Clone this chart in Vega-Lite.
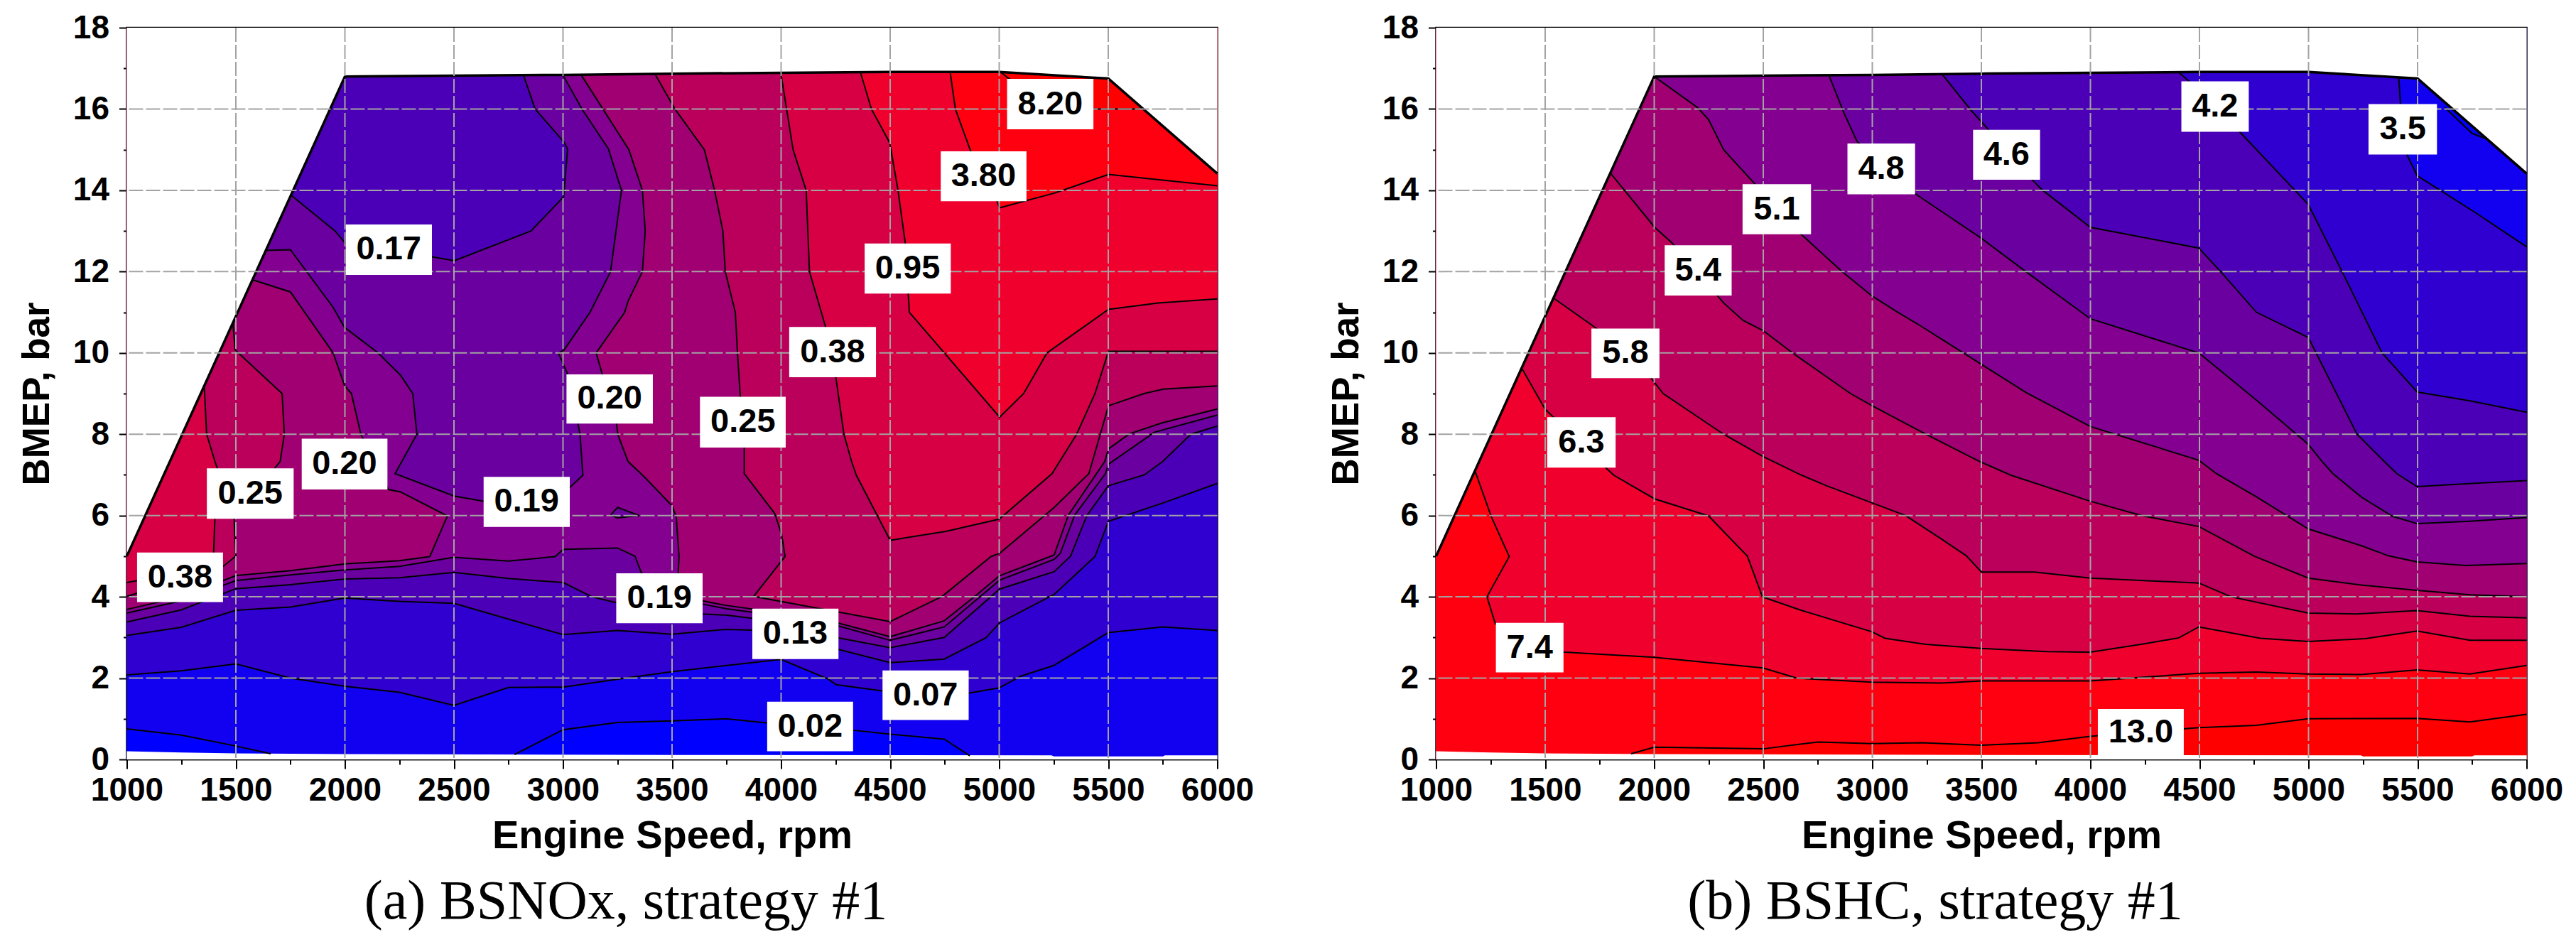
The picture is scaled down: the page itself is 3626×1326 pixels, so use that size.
{"$schema":"https://vega.github.io/schema/vega-lite/v6.json","background":"white","padding":{"left":24.5,"top":14,"right":20,"bottom":10},"spacing":308,"bounds":"flush","config":{"view":{"stroke":"black","strokeWidth":2.5},"axis":{"grid":false,"zindex":1,"domainColor":"black","domainWidth":1.5,"tickColor":"black","tickWidth":2,"labelFont":"Liberation Sans","labelFontSize":46,"labelFontWeight":"bold","labelColor":"black","labelOverlap":false,"labelBound":false,"labelFlush":false,"titleFont":"Liberation Sans","titleFontWeight":"bold","titleColor":"black"},"title":{"font":"Liberation Serif","fontSize":78,"fontWeight":"normal","color":"black"}},
"datasets":{
"gx":[{"x":1500},{"x":2000},{"x":2500},{"x":3000},{"x":3500},{"x":4000},{"x":4500},{"x":5000},{"x":5500}],
"gy":[{"y":2},{"y":4},{"y":6},{"y":8},{"y":10},{"y":12},{"y":14},{"y":16}],
"A":[
{"p":"base","b":"c1","x":1000,"y":0},{"p":"base","b":"c1","x":6000,"y":0},{"p":"base","b":"c1","x":6000,"y":18},{"p":"base","b":"c1","x":1000,"y":18},
{"p":"c0a","b":"c0","x":1000,"y":0.75,"e":1},{"p":"c0a","b":"c0","x":1250,"y":0.6,"e":1},{"p":"c0a","b":"c0","x":1500,"y":0.33,"e":1},{"p":"c0a","b":"c0","x":1660,"y":0.14,"e":1},{"p":"c0a","b":"c0","x":1660,"y":0},{"p":"c0a","b":"c0","x":1000,"y":0},
{"p":"c0b","b":"c0","x":2778,"y":0.12,"e":1},{"p":"c0b","b":"c0","x":3000,"y":0.73,"e":1},{"p":"c0b","b":"c0","x":3250,"y":0.91,"e":1},{"p":"c0b","b":"c0","x":3500,"y":0.95,"e":1},{"p":"c0b","b":"c0","x":3747,"y":1.0,"e":1},{"p":"c0b","b":"c0","x":3932,"y":0.9,"e":1},{"p":"c0b","b":"c0","x":4345,"y":0.71,"e":1},{"p":"c0b","b":"c0","x":4500,"y":0.62,"e":1},{"p":"c0b","b":"c0","x":4748,"y":0.5,"e":1},{"p":"c0b","b":"c0","x":4865,"y":0.09,"e":1},{"p":"c0b","b":"c0","x":4865,"y":0},{"p":"c0b","b":"c0","x":2778,"y":0},
{"p":"L2","b":"c2","x":1000,"y":2.08,"e":1},{"p":"L2","b":"c2","x":1250,"y":2.18,"e":1},{"p":"L2","b":"c2","x":1500,"y":2.35,"e":1},{"p":"L2","b":"c2","x":1750,"y":2.0,"e":1},{"p":"L2","b":"c2","x":2000,"y":1.8,"e":1},{"p":"L2","b":"c2","x":2250,"y":1.65,"e":1},{"p":"L2","b":"c2","x":2500,"y":1.33,"e":1},{"p":"L2","b":"c2","x":2750,"y":1.77,"e":1},{"p":"L2","b":"c2","x":3000,"y":1.78,"e":1},{"p":"L2","b":"c2","x":3298,"y":2.01,"e":1},{"p":"L2","b":"c2","x":3500,"y":2.16,"e":1},{"p":"L2","b":"c2","x":4000,"y":2.46,"e":1},{"p":"L2","b":"c2","x":4214,"y":1.98,"e":1},{"p":"L2","b":"c2","x":4252,"y":1.84,"e":1},{"p":"L2","b":"c2","x":4500,"y":1.66,"e":1},{"p":"L2","b":"c2","x":4860,"y":1.63,"e":1},{"p":"L2","b":"c2","x":5000,"y":1.76,"e":1},{"p":"L2","b":"c2","x":5100,"y":2.05,"e":1},{"p":"L2","b":"c2","x":5250,"y":2.31,"e":1},{"p":"L2","b":"c2","x":5500,"y":3.12,"e":1},{"p":"L2","b":"c2","x":5750,"y":3.26,"e":1},{"p":"L2","b":"c2","x":6000,"y":3.17,"e":1},{"p":"L2","b":"c2","x":6000,"y":18},{"p":"L2","b":"c2","x":1000,"y":18},
{"p":"L3","b":"c3","x":1000,"y":3.05,"e":1},{"p":"L3","b":"c3","x":1250,"y":3.25,"e":1},{"p":"L3","b":"c3","x":1500,"y":3.67,"e":1},{"p":"L3","b":"c3","x":1750,"y":3.75,"e":1},{"p":"L3","b":"c3","x":2000,"y":3.97,"e":1},{"p":"L3","b":"c3","x":2250,"y":3.89,"e":1},{"p":"L3","b":"c3","x":2500,"y":3.84,"e":1},{"p":"L3","b":"c3","x":2750,"y":3.45,"e":1},{"p":"L3","b":"c3","x":3000,"y":3.07,"e":1},{"p":"L3","b":"c3","x":3250,"y":3.17,"e":1},{"p":"L3","b":"c3","x":3500,"y":3.08,"e":1},{"p":"L3","b":"c3","x":3747,"y":3.2,"e":1},{"p":"L3","b":"c3","x":3868,"y":3.18,"e":1},{"p":"L3","b":"c3","x":4261,"y":2.71,"e":1},{"p":"L3","b":"c3","x":4500,"y":2.38,"e":1},{"p":"L3","b":"c3","x":4748,"y":2.47,"e":1},{"p":"L3","b":"c3","x":4938,"y":2.99,"e":1},{"p":"L3","b":"c3","x":5002,"y":3.36,"e":1},{"p":"L3","b":"c3","x":5252,"y":4.06,"e":1},{"p":"L3","b":"c3","x":5439,"y":4.99,"e":1},{"p":"L3","b":"c3","x":5501,"y":5.86,"e":1},{"p":"L3","b":"c3","x":5752,"y":6.31,"e":1},{"p":"L3","b":"c3","x":6000,"y":6.79,"e":1},{"p":"L3","b":"c3","x":6000,"y":18},{"p":"L3","b":"c3","x":1000,"y":18},
{"p":"L4","b":"c4","x":1000,"y":3.38,"e":1},{"p":"L4","b":"c4","x":1250,"y":3.68,"e":1},{"p":"L4","b":"c4","x":1500,"y":4.2,"e":1},{"p":"L4","b":"c4","x":1750,"y":4.3,"e":1},{"p":"L4","b":"c4","x":2000,"y":4.44,"e":1},{"p":"L4","b":"c4","x":2250,"y":4.47,"e":1},{"p":"L4","b":"c4","x":2500,"y":4.6,"e":1},{"p":"L4","b":"c4","x":2750,"y":4.45,"e":1},{"p":"L4","b":"c4","x":3001,"y":4.35,"e":1},{"p":"L4","b":"c4","x":3133,"y":4.0,"e":1},{"p":"L4","b":"c4","x":3250,"y":3.85,"e":1},{"p":"L4","b":"c4","x":3640,"y":3.58,"e":1},{"p":"L4","b":"c4","x":3747,"y":3.55,"e":1},{"p":"L4","b":"c4","x":4003,"y":3.38,"e":1},{"p":"L4","b":"c4","x":4252,"y":3.0,"e":1},{"p":"L4","b":"c4","x":4500,"y":2.75,"e":1},{"p":"L4","b":"c4","x":4748,"y":3.0,"e":1},{"p":"L4","b":"c4","x":5002,"y":4.19,"e":1},{"p":"L4","b":"c4","x":5252,"y":4.62,"e":1},{"p":"L4","b":"c4","x":5327,"y":5.0,"e":1},{"p":"L4","b":"c4","x":5402,"y":6.0,"e":1},{"p":"L4","b":"c4","x":5500,"y":6.73,"e":1},{"p":"L4","b":"c4","x":5665,"y":7.0,"e":1},{"p":"L4","b":"c4","x":5750,"y":7.33,"e":1},{"p":"L4","b":"c4","x":5879,"y":8.0,"e":1},{"p":"L4","b":"c4","x":6000,"y":8.2,"e":1},{"p":"L4","b":"c4","x":6000,"y":18},{"p":"L4","b":"c4","x":1000,"y":18},
{"p":"L5","b":"c5","x":1000,"y":3.6,"e":1},{"p":"L5","b":"c5","x":1250,"y":3.9,"e":1},{"p":"L5","b":"c5","x":1500,"y":4.4,"e":1},{"p":"L5","b":"c5","x":1750,"y":4.54,"e":1},{"p":"L5","b":"c5","x":2000,"y":4.66,"e":1},{"p":"L5","b":"c5","x":2250,"y":4.75,"e":1},{"p":"L5","b":"c5","x":2500,"y":4.97,"e":1},{"p":"L5","b":"c5","x":2750,"y":4.88,"e":1},{"p":"L5","b":"c5","x":2964,"y":4.99,"e":1},{"p":"L5","b":"c5","x":3001,"y":5.17,"e":1},{"p":"L5","b":"c5","x":3250,"y":5.2,"e":1},{"p":"L5","b":"c5","x":3330,"y":5.0,"e":1},{"p":"L5","b":"c5","x":3360,"y":4.58,"e":1},{"p":"L5","b":"c5","x":3640,"y":3.82,"e":1},{"p":"L5","b":"c5","x":3747,"y":3.71,"e":1},{"p":"L5","b":"c5","x":4003,"y":3.52,"e":1},{"p":"L5","b":"c5","x":4252,"y":3.3,"e":1},{"p":"L5","b":"c5","x":4500,"y":2.93,"e":1},{"p":"L5","b":"c5","x":4748,"y":3.26,"e":1},{"p":"L5","b":"c5","x":5002,"y":4.41,"e":1},{"p":"L5","b":"c5","x":5252,"y":4.92,"e":1},{"p":"L5","b":"c5","x":5280,"y":5.07,"e":1},{"p":"L5","b":"c5","x":5346,"y":6.01,"e":1},{"p":"L5","b":"c5","x":5487,"y":7.03,"e":1},{"p":"L5","b":"c5","x":5500,"y":7.26,"e":1},{"p":"L5","b":"c5","x":5712,"y":8.05,"e":1},{"p":"L5","b":"c5","x":6000,"y":8.47,"e":1},{"p":"L5","b":"c5","x":6000,"y":18},{"p":"L5","b":"c5","x":1000,"y":18},
{"p":"T4","b":"c4","x":1637,"y":12.52,"e":1},{"p":"T4","b":"c4","x":1750,"y":12.54,"e":1},{"p":"T4","b":"c4","x":1946,"y":11.12,"e":1},{"p":"T4","b":"c4","x":1998,"y":10.63,"e":1},{"p":"T4","b":"c4","x":2152,"y":10,"e":1},{"p":"T4","b":"c4","x":2255,"y":9.45,"e":1},{"p":"T4","b":"c4","x":2311,"y":9,"e":1},{"p":"T4","b":"c4","x":2330,"y":8,"e":1},{"p":"T4","b":"c4","x":2230,"y":7.03,"e":1},{"p":"T4","b":"c4","x":2501,"y":6.48,"e":1},{"p":"T4","b":"c4","x":2638,"y":6.35,"e":1},{"p":"T4","b":"c4","x":3031,"y":6.69,"e":1},{"p":"T4","b":"c4","x":3091,"y":6.99,"e":1},{"p":"T4","b":"c4","x":3078,"y":8,"e":1},{"p":"T4","b":"c4","x":3022,"y":9.47,"e":1},{"p":"T4","b":"c4","x":2979,"y":10,"e":1},{"p":"T4","b":"c4","x":3003,"y":10.06,"e":1},{"p":"T4","b":"c4","x":3124,"y":11,"e":1},{"p":"T4","b":"c4","x":3218,"y":12,"e":1},{"p":"T4","b":"c4","x":3268,"y":14,"e":1},{"p":"T4","b":"c4","x":3208,"y":15.02,"e":1},{"p":"T4","b":"c4","x":3087,"y":16,"e":1},{"p":"T4","b":"c4","x":2999,"y":16.84,"e":1},{"p":"T4","b":"c4","x":2999,"y":18},{"p":"T4","b":"c4","x":1637,"y":18},
{"p":"T3","b":"c3","x":1753,"y":13.88,"e":1},{"p":"T3","b":"c3","x":1955,"y":13,"e":1},{"p":"T3","b":"c3","x":2002,"y":12.7,"e":1},{"p":"T3","b":"c3","x":2395,"y":12.37,"e":1},{"p":"T3","b":"c3","x":2502,"y":12.27,"e":1},{"p":"T3","b":"c3","x":2853,"y":13,"e":1},{"p":"T3","b":"c3","x":3003,"y":13.84,"e":1},{"p":"T3","b":"c3","x":3021,"y":15.02,"e":1},{"p":"T3","b":"c3","x":3003,"y":15.2,"e":1},{"p":"T3","b":"c3","x":2872,"y":16,"e":1},{"p":"T3","b":"c3","x":2819,"y":16.83,"e":1},{"p":"T3","b":"c3","x":2819,"y":18},{"p":"T3","b":"c3","x":1753,"y":18},
{"p":"S4","b":"c4","x":3218,"y":6.01,"e":1},{"p":"S4","b":"c4","x":3250,"y":6.2,"e":1},{"p":"S4","b":"c4","x":3349,"y":6.0,"e":1},{"p":"S4","b":"c4","x":3250,"y":5.94,"e":1},{"p":"S4","b":"c4","x":3218,"y":6.01,"e":1},
{"p":"L6a","b":"c6","x":1000,"y":3.69,"e":1},{"p":"L6a","b":"c6","x":1250,"y":4.0,"e":1},{"p":"L6a","b":"c6","x":1500,"y":4.52,"e":1},{"p":"L6a","b":"c6","x":1760,"y":4.65,"e":1},{"p":"L6a","b":"c6","x":2000,"y":4.81,"e":1},{"p":"L6a","b":"c6","x":2250,"y":4.89,"e":1},{"p":"L6a","b":"c6","x":2389,"y":4.99,"e":1},{"p":"L6a","b":"c6","x":2470,"y":5.99,"e":1},{"p":"L6a","b":"c6","x":2255,"y":6.58,"e":1},{"p":"L6a","b":"c6","x":2199,"y":6.64,"e":1},{"p":"L6a","b":"c6","x":2073,"y":8,"e":1},{"p":"L6a","b":"c6","x":2030,"y":9,"e":1},{"p":"L6a","b":"c6","x":1999,"y":9.19,"e":1},{"p":"L6a","b":"c6","x":1946,"y":10,"e":1},{"p":"L6a","b":"c6","x":1750,"y":11.5,"e":1},{"p":"L6a","b":"c6","x":1576,"y":11.8,"e":1},{"p":"L6a","b":"c6","x":1000,"y":18},
{"p":"L7a","b":"c7","x":1486,"y":10.74,"e":1},{"p":"L7a","b":"c7","x":1497,"y":10.07,"e":1},{"p":"L7a","b":"c7","x":1712,"y":9,"e":1},{"p":"L7a","b":"c7","x":1722,"y":8,"e":1},{"p":"L7a","b":"c7","x":1703,"y":7.33,"e":1},{"p":"L7a","b":"c7","x":1492,"y":5.92,"e":1},{"p":"L7a","b":"c7","x":1500,"y":5.0,"e":1},{"p":"L7a","b":"c7","x":1442,"y":4.75,"e":1},{"p":"L7a","b":"c7","x":1000,"y":4.01,"e":1},{"p":"L7a","b":"c7","x":1000,"y":18},
{"p":"L8a","b":"c8","x":1355,"y":9.19,"e":1},{"p":"L8a","b":"c8","x":1366,"y":8,"e":1},{"p":"L8a","b":"c8","x":1404,"y":7.33,"e":1},{"p":"L8a","b":"c8","x":1423,"y":7.03,"e":1},{"p":"L8a","b":"c8","x":1404,"y":5.97,"e":1},{"p":"L8a","b":"c8","x":1398,"y":5.07,"e":1},{"p":"L8a","b":"c8","x":1250,"y":4.6,"e":1},{"p":"L8a","b":"c8","x":1000,"y":4.35,"e":1},{"p":"L8a","b":"c8","x":1000,"y":18},
{"p":"L6b","b":"c6","x":3083,"y":16.84,"e":1},{"p":"L6b","b":"c6","x":3302,"y":15,"e":1},{"p":"L6b","b":"c6","x":3364,"y":14,"e":1},{"p":"L6b","b":"c6","x":3377,"y":13,"e":1},{"p":"L6b","b":"c6","x":3364,"y":12,"e":1},{"p":"L6b","b":"c6","x":3298,"y":11.27,"e":1},{"p":"L6b","b":"c6","x":3283,"y":11,"e":1},{"p":"L6b","b":"c6","x":3152,"y":10,"e":1},{"p":"L6b","b":"c6","x":3246,"y":8.24,"e":1},{"p":"L6b","b":"c6","x":3251,"y":8,"e":1},{"p":"L6b","b":"c6","x":3298,"y":7.33,"e":1},{"p":"L6b","b":"c6","x":3373,"y":6.95,"e":1},{"p":"L6b","b":"c6","x":3500,"y":6.24,"e":1},{"p":"L6b","b":"c6","x":3519,"y":5.97,"e":1},{"p":"L6b","b":"c6","x":3532,"y":4.99,"e":1},{"p":"L6b","b":"c6","x":3528,"y":4.58,"e":1},{"p":"L6b","b":"c6","x":3640,"y":3.9,"e":1},{"p":"L6b","b":"c6","x":3747,"y":3.79,"e":1},{"p":"L6b","b":"c6","x":4003,"y":3.6,"e":1},{"p":"L6b","b":"c6","x":4252,"y":3.37,"e":1},{"p":"L6b","b":"c6","x":4500,"y":3.02,"e":1},{"p":"L6b","b":"c6","x":4748,"y":3.41,"e":1},{"p":"L6b","b":"c6","x":4888,"y":4.01,"e":1},{"p":"L6b","b":"c6","x":5002,"y":4.52,"e":1},{"p":"L6b","b":"c6","x":5252,"y":5.03,"e":1},{"p":"L6b","b":"c6","x":5317,"y":6.01,"e":1},{"p":"L6b","b":"c6","x":5484,"y":7.33,"e":1},{"p":"L6b","b":"c6","x":5501,"y":7.64,"e":1},{"p":"L6b","b":"c6","x":5597,"y":8.01,"e":1},{"p":"L6b","b":"c6","x":5747,"y":8.28,"e":1},{"p":"L6b","b":"c6","x":6000,"y":8.62,"e":1},{"p":"L6b","b":"c6","x":6000,"y":18},{"p":"L6b","b":"c6","x":3083,"y":18},
{"p":"L7b","b":"c7","x":3422,"y":16.86,"e":1},{"p":"L7b","b":"c7","x":3513,"y":16,"e":1},{"p":"L7b","b":"c7","x":3648,"y":15,"e":1},{"p":"L7b","b":"c7","x":3695,"y":14,"e":1},{"p":"L7b","b":"c7","x":3733,"y":13,"e":1},{"p":"L7b","b":"c7","x":3744,"y":12,"e":1},{"p":"L7b","b":"c7","x":3790,"y":11,"e":1},{"p":"L7b","b":"c7","x":3800,"y":10,"e":1},{"p":"L7b","b":"c7","x":3813,"y":8.92,"e":1},{"p":"L7b","b":"c7","x":3831,"y":7.67,"e":1},{"p":"L7b","b":"c7","x":3831,"y":7.03,"e":1},{"p":"L7b","b":"c7","x":3971,"y":6.05,"e":1},{"p":"L7b","b":"c7","x":4003,"y":5.52,"e":1},{"p":"L7b","b":"c7","x":4018,"y":4.99,"e":1},{"p":"L7b","b":"c7","x":3874,"y":4.01,"e":1},{"p":"L7b","b":"c7","x":4500,"y":3.39,"e":1},{"p":"L7b","b":"c7","x":4738,"y":4.01,"e":1},{"p":"L7b","b":"c7","x":4962,"y":4.99,"e":1},{"p":"L7b","b":"c7","x":5002,"y":5.07,"e":1},{"p":"L7b","b":"c7","x":5252,"y":6.2,"e":1},{"p":"L7b","b":"c7","x":5411,"y":7.03,"e":1},{"p":"L7b","b":"c7","x":5501,"y":8.7,"e":1},{"p":"L7b","b":"c7","x":5664,"y":9,"e":1},{"p":"L7b","b":"c7","x":5752,"y":9.11,"e":1},{"p":"L7b","b":"c7","x":6000,"y":9.19,"e":1},{"p":"L7b","b":"c7","x":6000,"y":18},{"p":"L7b","b":"c7","x":3422,"y":18},
{"p":"L8b","b":"c8","x":3999,"y":16.88,"e":1},{"p":"L8b","b":"c8","x":4055,"y":15,"e":1},{"p":"L8b","b":"c8","x":4115,"y":14,"e":1},{"p":"L8b","b":"c8","x":4130,"y":12,"e":1},{"p":"L8b","b":"c8","x":4204,"y":10.64,"e":1},{"p":"L8b","b":"c8","x":4251,"y":9.4,"e":1},{"p":"L8b","b":"c8","x":4288,"y":8,"e":1},{"p":"L8b","b":"c8","x":4323,"y":7.33,"e":1},{"p":"L8b","b":"c8","x":4345,"y":6.99,"e":1},{"p":"L8b","b":"c8","x":4500,"y":5.39,"e":1},{"p":"L8b","b":"c8","x":4755,"y":5.61,"e":1},{"p":"L8b","b":"c8","x":5000,"y":5.91,"e":1},{"p":"L8b","b":"c8","x":5242,"y":7.03,"e":1},{"p":"L8b","b":"c8","x":5355,"y":8,"e":1},{"p":"L8b","b":"c8","x":5439,"y":9,"e":1},{"p":"L8b","b":"c8","x":5501,"y":10.04,"e":1},{"p":"L8b","b":"c8","x":6000,"y":10.04,"e":1},{"p":"L8b","b":"c8","x":6000,"y":18},{"p":"L8b","b":"c8","x":3999,"y":18},
{"p":"L9","b":"c9","x":4364,"y":16.9,"e":1},{"p":"L9","b":"c9","x":4414,"y":16,"e":1},{"p":"L9","b":"c9","x":4498,"y":15.17,"e":1},{"p":"L9","b":"c9","x":4536,"y":14,"e":1},{"p":"L9","b":"c9","x":4569,"y":12.71,"e":1},{"p":"L9","b":"c9","x":4588,"y":11,"e":1},{"p":"L9","b":"c9","x":5002,"y":8.42,"e":1},{"p":"L9","b":"c9","x":5112,"y":9,"e":1},{"p":"L9","b":"c9","x":5219,"y":10,"e":1},{"p":"L9","b":"c9","x":5501,"y":11.07,"e":1},{"p":"L9","b":"c9","x":5729,"y":11.23,"e":1},{"p":"L9","b":"c9","x":6000,"y":11.33,"e":1},{"p":"L9","b":"c9","x":6000,"y":18},{"p":"L9","b":"c9","x":4364,"y":18},
{"p":"L10","b":"c10","x":4775,"y":16.91,"e":1},{"p":"L10","b":"c10","x":4799,"y":16,"e":1},{"p":"L10","b":"c10","x":4868,"y":14.98,"e":1},{"p":"L10","b":"c10","x":4990,"y":13.73,"e":1},{"p":"L10","b":"c10","x":5002,"y":13.57,"e":1},{"p":"L10","b":"c10","x":5252,"y":13.93,"e":1},{"p":"L10","b":"c10","x":5501,"y":14.39,"e":1},{"p":"L10","b":"c10","x":6000,"y":14.11,"e":1},{"p":"L10","b":"c10","x":6000,"y":18},{"p":"L10","b":"c10","x":4775,"y":18},
{"p":"L11","b":"c11","x":5009,"y":16.9,"e":1},{"p":"L11","b":"c11","x":5046,"y":16.74,"e":1},{"p":"L11","b":"c11","x":5429,"y":16,"e":1},{"p":"L11","b":"c11","x":5644,"y":16,"e":1},{"p":"L11","b":"c11","x":5644,"y":18},{"p":"L11","b":"c11","x":5009,"y":18},
{"p":"mt","b":"w","x":1000,"y":5,"e":2},{"p":"mt","b":"w","x":2000,"y":16.8,"e":2},{"p":"mt","b":"w","x":2500,"y":16.82,"e":2},{"p":"mt","b":"w","x":3000,"y":16.84,"e":2},{"p":"mt","b":"w","x":3500,"y":16.87,"e":2},{"p":"mt","b":"w","x":4000,"y":16.89,"e":2},{"p":"mt","b":"w","x":4500,"y":16.91,"e":2},{"p":"mt","b":"w","x":5000,"y":16.91,"e":2},{"p":"mt","b":"w","x":5500,"y":16.75,"e":2},{"p":"mt","b":"w","x":6000,"y":14.41,"e":2},{"p":"mt","b":"w","x":6000,"y":18},{"p":"mt","b":"w","x":1000,"y":18},
{"p":"mb","b":"w","x":1000,"y":0.2},{"p":"mb","b":"w","x":1250,"y":0.17},{"p":"mb","b":"w","x":1500,"y":0.15},{"p":"mb","b":"w","x":2000,"y":0.13},{"p":"mb","b":"w","x":3500,"y":0.11},{"p":"mb","b":"w","x":5240,"y":0.1},{"p":"mb","b":"w","x":5250,"y":0.075},{"p":"mb","b":"w","x":5750,"y":0.075},{"p":"mb","b":"w","x":5760,"y":0.1},{"p":"mb","b":"w","x":6000,"y":0.1},{"p":"mb","b":"w","x":6000,"y":0},{"p":"mb","b":"w","x":1000,"y":0}
],
"B":[
{"p":"base","b":"c1","x":1000,"y":0},{"p":"base","b":"c1","x":6000,"y":0},{"p":"base","b":"c1","x":6000,"y":18},{"p":"base","b":"c1","x":1000,"y":18},
{"p":"S0","b":"c0","x":5625,"y":16.04,"e":1},{"p":"S0","b":"c0","x":5750,"y":15.4,"e":1},{"p":"S0","b":"c0","x":5808,"y":15.28,"e":1},{"p":"S0","b":"c0","x":5808,"y":18},{"p":"S0","b":"c0","x":5625,"y":18},
{"p":"R10","b":"c2","x":5414,"y":16.76,"e":1},{"p":"R10","b":"c2","x":5423,"y":16,"e":1},{"p":"R10","b":"c2","x":5452,"y":14.87,"e":1},{"p":"R10","b":"c2","x":5498,"y":14.36,"e":1},{"p":"R10","b":"c2","x":5760,"y":13.47,"e":1},{"p":"R10","b":"c2","x":6000,"y":12.61,"e":1},{"p":"R10","b":"c2","x":6000,"y":0},{"p":"R10","b":"c2","x":1000,"y":0},{"p":"R10","b":"c2","x":1000,"y":18},{"p":"R10","b":"c2","x":5414,"y":18},
{"p":"R9","b":"c3","x":4405,"y":16.9,"e":1},{"p":"R9","b":"c3","x":4453,"y":16.68,"e":1},{"p":"R9","b":"c3","x":4684,"y":15.44,"e":1},{"p":"R9","b":"c3","x":4999,"y":13.65,"e":1},{"p":"R9","b":"c3","x":5154,"y":12,"e":1},{"p":"R9","b":"c3","x":5337,"y":10,"e":1},{"p":"R9","b":"c3","x":5498,"y":9.04,"e":1},{"p":"R9","b":"c3","x":5740,"y":8.82,"e":1},{"p":"R9","b":"c3","x":6000,"y":8.54,"e":1},{"p":"R9","b":"c3","x":6000,"y":0},{"p":"R9","b":"c3","x":1000,"y":0},{"p":"R9","b":"c3","x":1000,"y":18},{"p":"R9","b":"c3","x":4405,"y":18},
{"p":"R8","b":"c4","x":3319,"y":16.86,"e":1},{"p":"R8","b":"c4","x":3454,"y":15.96,"e":1},{"p":"R8","b":"c4","x":3511,"y":15.62,"e":1},{"p":"R8","b":"c4","x":3733,"y":14.26,"e":1},{"p":"R8","b":"c4","x":3781,"y":14,"e":1},{"p":"R8","b":"c4","x":4000,"y":13.09,"e":1},{"p":"R8","b":"c4","x":4497,"y":12.58,"e":1},{"p":"R8","b":"c4","x":4597,"y":12,"e":1},{"p":"R8","b":"c4","x":4761,"y":11,"e":1},{"p":"R8","b":"c4","x":4999,"y":10.38,"e":1},{"p":"R8","b":"c4","x":5222,"y":8,"e":1},{"p":"R8","b":"c4","x":5347,"y":7.33,"e":1},{"p":"R8","b":"c4","x":5405,"y":7.03,"e":1},{"p":"R8","b":"c4","x":5498,"y":6.71,"e":1},{"p":"R8","b":"c4","x":5750,"y":6.79,"e":1},{"p":"R8","b":"c4","x":6000,"y":6.86,"e":1},{"p":"R8","b":"c4","x":6000,"y":0},{"p":"R8","b":"c4","x":1000,"y":0},{"p":"R8","b":"c4","x":1000,"y":18},{"p":"R8","b":"c4","x":3319,"y":18},
{"p":"R7","b":"c5","x":2801,"y":16.83,"e":1},{"p":"R7","b":"c5","x":2870,"y":15.9,"e":1},{"p":"R7","b":"c5","x":2930,"y":15.2,"e":1},{"p":"R7","b":"c5","x":3196,"y":13.92,"e":1},{"p":"R7","b":"c5","x":3320,"y":13.47,"e":1},{"p":"R7","b":"c5","x":3500,"y":12.82,"e":1},{"p":"R7","b":"c5","x":3704,"y":12,"e":1},{"p":"R7","b":"c5","x":4000,"y":10.84,"e":1},{"p":"R7","b":"c5","x":4497,"y":10,"e":1},{"p":"R7","b":"c5","x":4761,"y":8.84,"e":1},{"p":"R7","b":"c5","x":4999,"y":7.75,"e":1},{"p":"R7","b":"c5","x":5062,"y":7.33,"e":1},{"p":"R7","b":"c5","x":5112,"y":7.03,"e":1},{"p":"R7","b":"c5","x":5241,"y":6.46,"e":1},{"p":"R7","b":"c5","x":5385,"y":5.98,"e":1},{"p":"R7","b":"c5","x":5498,"y":5.8,"e":1},{"p":"R7","b":"c5","x":5740,"y":5.86,"e":1},{"p":"R7","b":"c5","x":6000,"y":5.95,"e":1},{"p":"R7","b":"c5","x":6000,"y":0},{"p":"R7","b":"c5","x":1000,"y":0},{"p":"R7","b":"c5","x":1000,"y":18},{"p":"R7","b":"c5","x":2801,"y":18},
{"p":"R6","b":"c6","x":2000,"y":16.8,"e":1},{"p":"R6","b":"c6","x":2200,"y":16.03,"e":1},{"p":"R6","b":"c6","x":2249,"y":15.74,"e":1},{"p":"R6","b":"c6","x":2318,"y":15,"e":1},{"p":"R6","b":"c6","x":2466,"y":14.13,"e":1},{"p":"R6","b":"c6","x":2673,"y":12.92,"e":1},{"p":"R6","b":"c6","x":2861,"y":12,"e":1},{"p":"R6","b":"c6","x":2999,"y":11.4,"e":1},{"p":"R6","b":"c6","x":3117,"y":11,"e":1},{"p":"R6","b":"c6","x":3223,"y":10.66,"e":1},{"p":"R6","b":"c6","x":3320,"y":10.33,"e":1},{"p":"R6","b":"c6","x":3500,"y":9.72,"e":1},{"p":"R6","b":"c6","x":3704,"y":9.03,"e":1},{"p":"R6","b":"c6","x":4000,"y":8.19,"e":1},{"p":"R6","b":"c6","x":4497,"y":7.36,"e":1},{"p":"R6","b":"c6","x":4578,"y":7.03,"e":1},{"p":"R6","b":"c6","x":4761,"y":6.46,"e":1},{"p":"R6","b":"c6","x":4999,"y":5.67,"e":1},{"p":"R6","b":"c6","x":5241,"y":5.26,"e":1},{"p":"R6","b":"c6","x":5366,"y":5.01,"e":1},{"p":"R6","b":"c6","x":5498,"y":4.86,"e":1},{"p":"R6","b":"c6","x":5721,"y":4.77,"e":1},{"p":"R6","b":"c6","x":6000,"y":4.82,"e":1},{"p":"R6","b":"c6","x":6000,"y":0},{"p":"R6","b":"c6","x":1000,"y":0},{"p":"R6","b":"c6","x":1000,"y":18},{"p":"R6","b":"c6","x":2000,"y":18},
{"p":"R5","b":"c7","x":1801,"y":14.41,"e":1},{"p":"R5","b":"c7","x":2002,"y":13.09,"e":1},{"p":"R5","b":"c7","x":2081,"y":12.71,"e":1},{"p":"R5","b":"c7","x":2318,"y":11.23,"e":1},{"p":"R5","b":"c7","x":2407,"y":10.8,"e":1},{"p":"R5","b":"c7","x":2499,"y":10.55,"e":1},{"p":"R5","b":"c7","x":2634,"y":10,"e":1},{"p":"R5","b":"c7","x":2900,"y":9,"e":1},{"p":"R5","b":"c7","x":2999,"y":8.7,"e":1},{"p":"R5","b":"c7","x":3245,"y":8,"e":1},{"p":"R5","b":"c7","x":3492,"y":7.33,"e":1},{"p":"R5","b":"c7","x":3636,"y":6.99,"e":1},{"p":"R5","b":"c7","x":4000,"y":6.35,"e":1},{"p":"R5","b":"c7","x":4242,"y":5.99,"e":1},{"p":"R5","b":"c7","x":4497,"y":5.73,"e":1},{"p":"R5","b":"c7","x":4751,"y":5,"e":1},{"p":"R5","b":"c7","x":4999,"y":4.46,"e":1},{"p":"R5","b":"c7","x":5241,"y":4.29,"e":1},{"p":"R5","b":"c7","x":5498,"y":4.16,"e":1},{"p":"R5","b":"c7","x":5740,"y":4.05,"e":1},{"p":"R5","b":"c7","x":6000,"y":4,"e":1},{"p":"R5","b":"c7","x":6000,"y":0},{"p":"R5","b":"c7","x":1000,"y":0},{"p":"R5","b":"c7","x":1000,"y":18},{"p":"R5","b":"c7","x":1801,"y":18},
{"p":"R4","b":"c8","x":1538,"y":11.35,"e":1},{"p":"R4","b":"c8","x":1736,"y":10.6,"e":1},{"p":"R4","b":"c8","x":1983,"y":9.4,"e":1},{"p":"R4","b":"c8","x":2041,"y":9,"e":1},{"p":"R4","b":"c8","x":2318,"y":8,"e":1},{"p":"R4","b":"c8","x":2499,"y":7.45,"e":1},{"p":"R4","b":"c8","x":2668,"y":7.01,"e":1},{"p":"R4","b":"c8","x":2791,"y":6.73,"e":1},{"p":"R4","b":"c8","x":2999,"y":6.31,"e":1},{"p":"R4","b":"c8","x":3152,"y":6,"e":1},{"p":"R4","b":"c8","x":3320,"y":5.41,"e":1},{"p":"R4","b":"c8","x":3431,"y":5.01,"e":1},{"p":"R4","b":"c8","x":3500,"y":4.61,"e":1},{"p":"R4","b":"c8","x":3742,"y":4.61,"e":1},{"p":"R4","b":"c8","x":4000,"y":4.46,"e":1},{"p":"R4","b":"c8","x":4497,"y":4.34,"e":1},{"p":"R4","b":"c8","x":4645,"y":4,"e":1},{"p":"R4","b":"c8","x":4999,"y":3.6,"e":1},{"p":"R4","b":"c8","x":5222,"y":3.58,"e":1},{"p":"R4","b":"c8","x":5498,"y":3.66,"e":1},{"p":"R4","b":"c8","x":5740,"y":3.52,"e":1},{"p":"R4","b":"c8","x":6000,"y":3.48,"e":1},{"p":"R4","b":"c8","x":6000,"y":0},{"p":"R4","b":"c8","x":1000,"y":0},{"p":"R4","b":"c8","x":1000,"y":18},{"p":"R4","b":"c8","x":1538,"y":18},
{"p":"R3","b":"c9","x":1392,"y":9.63,"e":1},{"p":"R3","b":"c9","x":1499,"y":8.62,"e":1},{"p":"R3","b":"c9","x":1785,"y":7.14,"e":1},{"p":"R3","b":"c9","x":1815,"y":6.99,"e":1},{"p":"R3","b":"c9","x":2002,"y":6.41,"e":1},{"p":"R3","b":"c9","x":2249,"y":5.99,"e":1},{"p":"R3","b":"c9","x":2427,"y":5,"e":1},{"p":"R3","b":"c9","x":2496,"y":4,"e":1},{"p":"R3","b":"c9","x":2673,"y":3.67,"e":1},{"p":"R3","b":"c9","x":2999,"y":3.14,"e":1},{"p":"R3","b":"c9","x":3058,"y":2.98,"e":1},{"p":"R3","b":"c9","x":3245,"y":2.83,"e":1},{"p":"R3","b":"c9","x":3500,"y":2.73,"e":1},{"p":"R3","b":"c9","x":3800,"y":2.65,"e":1},{"p":"R3","b":"c9","x":4000,"y":2.64,"e":1},{"p":"R3","b":"c9","x":4242,"y":2.84,"e":1},{"p":"R3","b":"c9","x":4405,"y":2.99,"e":1},{"p":"R3","b":"c9","x":4497,"y":3.26,"e":1},{"p":"R3","b":"c9","x":4780,"y":2.98,"e":1},{"p":"R3","b":"c9","x":4999,"y":2.9,"e":1},{"p":"R3","b":"c9","x":5260,"y":2.97,"e":1},{"p":"R3","b":"c9","x":5498,"y":3.16,"e":1},{"p":"R3","b":"c9","x":5740,"y":2.93,"e":1},{"p":"R3","b":"c9","x":6000,"y":2.93,"e":1},{"p":"R3","b":"c9","x":6000,"y":0},{"p":"R3","b":"c9","x":1000,"y":0},{"p":"R3","b":"c9","x":1000,"y":18},{"p":"R3","b":"c9","x":1392,"y":18},
{"p":"R2","b":"c10","x":1180,"y":7.07,"e":1},{"p":"R2","b":"c10","x":1253,"y":5.97,"e":1},{"p":"R2","b":"c10","x":1335,"y":4.99,"e":1},{"p":"R2","b":"c10","x":1233,"y":4,"e":1},{"p":"R2","b":"c10","x":1272,"y":3.33,"e":1},{"p":"R2","b":"c10","x":1588,"y":2.64,"e":1},{"p":"R2","b":"c10","x":2000,"y":2.51,"e":1},{"p":"R2","b":"c10","x":2499,"y":2.25,"e":1},{"p":"R2","b":"c10","x":2653,"y":2,"e":1},{"p":"R2","b":"c10","x":2999,"y":1.9,"e":1},{"p":"R2","b":"c10","x":3320,"y":1.88,"e":1},{"p":"R2","b":"c10","x":3500,"y":1.93,"e":1},{"p":"R2","b":"c10","x":4000,"y":1.93,"e":1},{"p":"R2","b":"c10","x":4497,"y":2.12,"e":1},{"p":"R2","b":"c10","x":4761,"y":2.15,"e":1},{"p":"R2","b":"c10","x":4999,"y":2.1,"e":1},{"p":"R2","b":"c10","x":5241,"y":2.09,"e":1},{"p":"R2","b":"c10","x":5498,"y":2.2,"e":1},{"p":"R2","b":"c10","x":5740,"y":2.1,"e":1},{"p":"R2","b":"c10","x":6000,"y":2.31,"e":1},{"p":"R2","b":"c10","x":6000,"y":0},{"p":"R2","b":"c10","x":1000,"y":0},{"p":"R2","b":"c10","x":1000,"y":18},
{"p":"R1","b":"c11","x":1894,"y":0.14,"e":1},{"p":"R1","b":"c11","x":2000,"y":0.3,"e":1},{"p":"R1","b":"c11","x":2499,"y":0.26,"e":1},{"p":"R1","b":"c11","x":2752,"y":0.43,"e":1},{"p":"R1","b":"c11","x":2999,"y":0.39,"e":1},{"p":"R1","b":"c11","x":3226,"y":0.41,"e":1},{"p":"R1","b":"c11","x":3500,"y":0.35,"e":1},{"p":"R1","b":"c11","x":3761,"y":0.41,"e":1},{"p":"R1","b":"c11","x":4000,"y":0.57,"e":1},{"p":"R1","b":"c11","x":4497,"y":0.78,"e":1},{"p":"R1","b":"c11","x":4761,"y":0.84,"e":1},{"p":"R1","b":"c11","x":4999,"y":1,"e":1},{"p":"R1","b":"c11","x":5498,"y":1.01,"e":1},{"p":"R1","b":"c11","x":5740,"y":0.92,"e":1},{"p":"R1","b":"c11","x":6000,"y":1.11,"e":1},{"p":"R1","b":"c11","x":6000,"y":0},{"p":"R1","b":"c11","x":1894,"y":0},
{"p":"mt","b":"w","x":1000,"y":5,"e":2},{"p":"mt","b":"w","x":2000,"y":16.8,"e":2},{"p":"mt","b":"w","x":2500,"y":16.82,"e":2},{"p":"mt","b":"w","x":3000,"y":16.84,"e":2},{"p":"mt","b":"w","x":3500,"y":16.87,"e":2},{"p":"mt","b":"w","x":4000,"y":16.89,"e":2},{"p":"mt","b":"w","x":4500,"y":16.91,"e":2},{"p":"mt","b":"w","x":5000,"y":16.91,"e":2},{"p":"mt","b":"w","x":5500,"y":16.75,"e":2},{"p":"mt","b":"w","x":6000,"y":14.41,"e":2},{"p":"mt","b":"w","x":6000,"y":18},{"p":"mt","b":"w","x":1000,"y":18},
{"p":"mb","b":"w","x":1000,"y":0.2},{"p":"mb","b":"w","x":1250,"y":0.17},{"p":"mb","b":"w","x":1500,"y":0.15},{"p":"mb","b":"w","x":2000,"y":0.13},{"p":"mb","b":"w","x":3500,"y":0.11},{"p":"mb","b":"w","x":5240,"y":0.1},{"p":"mb","b":"w","x":5250,"y":0.075},{"p":"mb","b":"w","x":5750,"y":0.075},{"p":"mb","b":"w","x":5760,"y":0.1},{"p":"mb","b":"w","x":6000,"y":0.1},{"p":"mb","b":"w","x":6000,"y":0},{"p":"mb","b":"w","x":1000,"y":0}
],
"LA":[
{"t":"0.17","x0":2004,"x1":2399,"y0":11.92,"y1":13.16,"x":2201,"y":12.54},
{"t":"0.20","x0":3016,"x1":3412,"y0":8.26,"y1":9.47,"x":3214,"y":8.87},
{"t":"0.20","x0":1802,"x1":2195,"y0":6.64,"y1":7.89,"x":1998,"y":7.27},
{"t":"0.25","x0":1367,"x1":1765,"y0":5.92,"y1":7.16,"x":1566,"y":6.54},
{"t":"0.19","x0":2636,"x1":3031,"y0":5.72,"y1":6.95,"x":2833,"y":6.34},
{"t":"0.38","x0":1047,"x1":1441,"y0":3.87,"y1":5.09,"x":1244,"y":4.48},
{"t":"0.19","x0":3244,"x1":3640,"y0":3.35,"y1":4.58,"x":3442,"y":3.97},
{"t":"0.13","x0":3868,"x1":4263,"y0":2.47,"y1":3.71,"x":4065,"y":3.09},
{"t":"0.07","x0":4465,"x1":4860,"y0":0.97,"y1":2.19,"x":4662,"y":1.58},
{"t":"0.02","x0":3936,"x1":4330,"y0":0.2,"y1":1.42,"x":4133,"y":0.81},
{"t":"0.25","x0":3628,"x1":4021,"y0":7.67,"y1":8.92,"x":3825,"y":8.3},
{"t":"0.38","x0":4037,"x1":4435,"y0":9.4,"y1":10.64,"x":4236,"y":10.02},
{"t":"0.95","x0":4383,"x1":4778,"y0":11.46,"y1":12.69,"x":4580,"y":12.07},
{"t":"3.80","x0":4732,"x1":5125,"y0":13.73,"y1":14.96,"x":4928,"y":14.34},
{"t":"8.20","x0":5036,"x1":5432,"y0":15.5,"y1":16.74,"x":5234,"y":16.12}
],
"LB":[
{"t":"4.8","x0":2886,"x1":3196,"y0":13.9,"y1":15.15,"x":3041,"y":14.52},
{"t":"5.1","x0":2405,"x1":2719,"y0":12.92,"y1":14.15,"x":2562,"y":13.53},
{"t":"5.4","x0":2048,"x1":2355,"y0":11.41,"y1":12.65,"x":2201,"y":12.03},
{"t":"5.8","x0":1712,"x1":2024,"y0":9.38,"y1":10.6,"x":1868,"y":9.99},
{"t":"6.3","x0":1509,"x1":1823,"y0":7.18,"y1":8.42,"x":1666,"y":7.8},
{"t":"7.4","x0":1274,"x1":1584,"y0":2.14,"y1":3.36,"x":1429,"y":2.75},
{"t":"4.6","x0":3462,"x1":3769,"y0":14.26,"y1":15.49,"x":3615,"y":14.87},
{"t":"4.2","x0":4417,"x1":4726,"y0":15.44,"y1":16.68,"x":4571,"y":16.06},
{"t":"3.5","x0":5275,"x1":5589,"y0":14.88,"y1":16.12,"x":5432,"y":15.5},
{"t":"13.0","x0":4034,"x1":4428,"y0":0.1,"y1":1.24,"x":4231,"y":0.67}
]},
"hconcat":[
{"width":1535,"height":1030,"title":{"text":"(a) BSNOx, strategy #1","orient":"bottom","anchor":"middle","dx":-65,"offset":27},
"layer":[
{"data":{"name":"A"},"mark":{"type":"line","strokeWidth":0,"strokeOpacity":0},"encoding":{"x":{"field":"x","type":"quantitative","scale":{"domain":[1000,6000],"nice":false},"axis":{"title":"Engine Speed, rpm","titleFontSize":56,"titlePadding":14,"values":[1000,1250,1500,1750,2000,2250,2500,2750,3000,3250,3500,3750,4000,4250,4500,4750,5000,5250,5500,5750,6000],"format":"d","labelExpr":"datum.value%500===0?datum.label:''","labelPadding":8,"tickSize":{"condition":{"test":"datum.value%500===0","value":13},"value":7}}},"y":{"field":"y","type":"quantitative","scale":{"domain":[0,18],"nice":false},"axis":{"title":"BMEP, bar","titleFontSize":53,"titlePadding":23,"values":[0,1,2,3,4,5,6,7,8,9,10,11,12,13,14,15,16,17,18],"format":"d","labelExpr":"datum.value%2===0?datum.label:''","labelPadding":14,"tickSize":{"condition":{"test":"datum.value%2===0","value":11},"value":5}}},"fill":{"field":"b","type":"nominal","legend":null,"scale":{"domain":["w","c0","c1","c2","c3","c4","c5","c6","c7","c8","c9","c10","c11"],"range":["#ffffff","#0000ff","#1200f0","#3000d0","#4b00b8","#6a00a0","#830090","#a00072","#bb005c","#d80044","#f0002c","#ff0010","#ff0000"]}},"detail":{"field":"p"},"order":{"value":null}}},
{"data":{"name":"A"},"transform":[{"filter":"datum.e==1"}],"mark":{"type":"line","stroke":"black","strokeWidth":2},"encoding":{"x":{"field":"x","type":"quantitative"},"y":{"field":"y","type":"quantitative"},"detail":{"field":"p"},"order":{"value":null}}},
{"data":{"name":"A"},"transform":[{"filter":"datum.e==2"}],"mark":{"type":"line","stroke":"black","strokeWidth":3.5},"encoding":{"x":{"field":"x","type":"quantitative"},"y":{"field":"y","type":"quantitative"},"detail":{"field":"p"},"order":{"value":null}}},
{"data":{"name":"gx"},"mark":{"type":"rule","stroke":"#a3a3a3","strokeWidth":2,"strokeDash":[20,4]},"encoding":{"x":{"field":"x","type":"quantitative"}}},
{"data":{"name":"gy"},"mark":{"type":"rule","stroke":"#a3a3a3","strokeWidth":2,"strokeDash":[20,4]},"encoding":{"y":{"field":"y","type":"quantitative"}}},
{"data":{"name":"LA"},"mark":{"type":"rect","fill":"white"},"encoding":{"x":{"field":"x0","type":"quantitative"},"x2":{"field":"x1"},"y":{"field":"y0","type":"quantitative"},"y2":{"field":"y1"}}},
{"data":{"name":"LA"},"mark":{"type":"text","font":"Liberation Sans","fontWeight":"bold","fontSize":47,"fill":"black","baseline":"middle","align":"center"},"encoding":{"x":{"field":"x","type":"quantitative"},"y":{"field":"y","type":"quantitative"},"text":{"field":"t"}}}
]},
{"width":1535,"height":1030,"title":{"text":"(b) BSHC, strategy #1","orient":"bottom","anchor":"middle","dx":-65,"offset":27},
"layer":[
{"data":{"name":"B"},"mark":{"type":"line","strokeWidth":0,"strokeOpacity":0},"encoding":{"x":{"field":"x","type":"quantitative","scale":{"domain":[1000,6000],"nice":false},"axis":{"title":"Engine Speed, rpm","titleFontSize":56,"titlePadding":14,"values":[1000,1250,1500,1750,2000,2250,2500,2750,3000,3250,3500,3750,4000,4250,4500,4750,5000,5250,5500,5750,6000],"format":"d","labelExpr":"datum.value%500===0?datum.label:''","labelPadding":8,"tickSize":{"condition":{"test":"datum.value%500===0","value":13},"value":7}}},"y":{"field":"y","type":"quantitative","scale":{"domain":[0,18],"nice":false},"axis":{"title":"BMEP, bar","titleFontSize":53,"titlePadding":23,"values":[0,1,2,3,4,5,6,7,8,9,10,11,12,13,14,15,16,17,18],"format":"d","labelExpr":"datum.value%2===0?datum.label:''","labelPadding":14,"tickSize":{"condition":{"test":"datum.value%2===0","value":11},"value":5}}},"fill":{"field":"b","type":"nominal","legend":null,"scale":{"domain":["w","c0","c1","c2","c3","c4","c5","c6","c7","c8","c9","c10","c11"],"range":["#ffffff","#0000ff","#1200f0","#3000d0","#4b00b8","#6a00a0","#830090","#a00072","#bb005c","#d80044","#f0002c","#ff0010","#ff0000"]}},"detail":{"field":"p"},"order":{"value":null}}},
{"data":{"name":"B"},"transform":[{"filter":"datum.e==1"}],"mark":{"type":"line","stroke":"black","strokeWidth":2},"encoding":{"x":{"field":"x","type":"quantitative"},"y":{"field":"y","type":"quantitative"},"detail":{"field":"p"},"order":{"value":null}}},
{"data":{"name":"B"},"transform":[{"filter":"datum.e==2"}],"mark":{"type":"line","stroke":"black","strokeWidth":3.5},"encoding":{"x":{"field":"x","type":"quantitative"},"y":{"field":"y","type":"quantitative"},"detail":{"field":"p"},"order":{"value":null}}},
{"data":{"name":"gx"},"mark":{"type":"rule","stroke":"#a3a3a3","strokeWidth":2,"strokeDash":[20,4]},"encoding":{"x":{"field":"x","type":"quantitative"}}},
{"data":{"name":"gy"},"mark":{"type":"rule","stroke":"#a3a3a3","strokeWidth":2,"strokeDash":[20,4]},"encoding":{"y":{"field":"y","type":"quantitative"}}},
{"data":{"name":"LB"},"mark":{"type":"rect","fill":"white"},"encoding":{"x":{"field":"x0","type":"quantitative"},"x2":{"field":"x1"},"y":{"field":"y0","type":"quantitative"},"y2":{"field":"y1"}}},
{"data":{"name":"LB"},"mark":{"type":"text","font":"Liberation Sans","fontWeight":"bold","fontSize":47,"fill":"black","baseline":"middle","align":"center"},"encoding":{"x":{"field":"x","type":"quantitative"},"y":{"field":"y","type":"quantitative"},"text":{"field":"t"}}}
]}
]}
